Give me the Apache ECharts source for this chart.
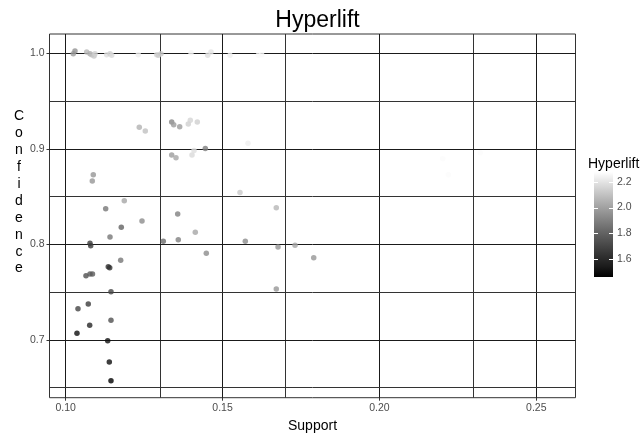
<!DOCTYPE html>
<html>
<head>
<meta charset="utf-8">
<script src="https://cdn.jsdelivr.net/npm/echarts@6/dist/echarts.min.js"></script>
<style>html,body{margin:0;padding:0;background:#fff;}#chart{width:642px;height:438px;}</style>
</head>
<body>
<div id="chart"></div>
<script>
// ---- data ----
const support = [
  0.10242, 0.10296, 0.10669, 0.10775, 0.10829, 0.10902, 0.10934, 0.11307, 0.11412, 0.11466,
  0.12314, 0.12901, 0.12952, 0.13038, 0.13994, 0.14527, 0.14632, 0.15237, 0.16140, 0.16248,
  0.12346, 0.12537, 0.13379, 0.13443, 0.13634, 0.13908, 0.13972, 0.14195,
  0.13379, 0.13516, 0.14026, 0.14090, 0.14450, 0.15811,
  0.22018, 0.22197, 0.23216,
  0.10880, 0.10848, 0.11868, 0.11275, 0.12432, 0.13570, 0.11772, 0.11412, 0.14131,
  0.10775, 0.10797, 0.13111, 0.13589, 0.14482, 0.11753, 0.11358, 0.11403, 0.10647, 0.10775,
  0.10854, 0.15725, 0.16713, 0.16768, 0.17310, 0.17906, 0.15556, 0.16713,
  0.11444, 0.10720, 0.10392, 0.11444, 0.10765, 0.10360, 0.11339, 0.11390, 0.11444
];
const confidence = [
  0.9996, 1.0024, 1.0014, 0.9996, 0.9985, 0.9972, 0.9996, 0.9985, 0.9996, 0.9979,
  0.9985, 0.9985, 0.9979, 0.9996, 1.0006, 0.9979, 1.0014, 0.9979, 0.9979, 0.9985,
  0.9225, 0.9187, 0.9281, 0.9253, 0.9232, 0.9260, 0.9299, 0.9281,
  0.8936, 0.8907, 0.8936, 0.8983, 0.9004, 0.9058,
  0.8897, 0.8729, 0.8960,
  0.8729, 0.8663, 0.8457, 0.8373, 0.8245, 0.8318, 0.8179, 0.8077, 0.8126,
  0.8011, 0.7986, 0.8032, 0.8049, 0.7907, 0.7833, 0.7766, 0.7756, 0.7672, 0.7690,
  0.7690, 0.8032, 0.8384, 0.7973, 0.7990, 0.7861, 0.8543, 0.7533,
  0.7505, 0.7376, 0.7327, 0.7205, 0.7153, 0.7069, 0.6992, 0.6769, 0.6573
];
const hyperlift = [
  1.990, 1.960, 2.070, 2.040, 2.085, 2.115, 2.140, 2.185, 2.140, 2.170,
  2.230, 2.155, 2.125, 2.115, 2.245, 2.185, 2.200, 2.230, 2.258, 2.258,
  2.050, 2.095, 1.920, 1.985, 1.985, 2.140, 2.155, 2.140,
  1.985, 2.015, 2.170, 2.185, 1.890, 2.230,
  2.265, 2.265, 2.265,
  1.966, 1.966, 2.015, 1.869, 1.934, 1.901, 1.804, 1.869, 2.015,
  1.666, 1.666, 1.837, 1.901, 1.934, 1.869, 1.625, 1.625, 1.739, 1.772,
  1.772, 1.934, 2.064, 1.966, 2.015, 1.966, 2.121, 1.966,
  1.698, 1.666, 1.698, 1.739, 1.585, 1.504, 1.512, 1.504, 1.463
];
const xMajorTicks = [0.10, 0.15, 0.20, 0.25];
const xMinorTicks = [0.125, 0.175, 0.225];
const yMajorTicks = [0.7, 0.8, 0.9, 1.0];
const yMinorTicks = [0.65, 0.75, 0.85, 0.95];
const legendTicks = [1.6, 1.8, 2.0, 2.2];
const xRange = [0.09484, 0.2625];
const yRange = [0.6395, 1.0202];
const colorRange = [1.463, 2.275];
const grayStops = ['#000000','#1b1b1b','#303030','#474747','#5e5e5e','#777777','#919191','#ababab','#c6c6c6','#e2e2e2','#ffffff'];

// ---- chart ----
const chart = echarts.init(document.getElementById('chart'), null, {renderer: 'canvas'});
const font = 'Liberation Sans, Arial, sans-serif';
const points = support.map((s, i) => [s, confidence[i], hyperlift[i]]);

const major = {color: '#1a1a1a', width: 1, type: 'solid'};
const minor = {color: '#333333', width: 1, type: 'solid'};
const gridLineData = []
  .concat(xMajorTicks.map(v => ({xAxis: v, lineStyle: major})))
  .concat(xMinorTicks.map(v => ({xAxis: v, lineStyle: minor})))
  .concat(yMajorTicks.map(v => ({yAxis: v, lineStyle: major})))
  .concat(yMinorTicks.map(v => ({yAxis: v, lineStyle: minor})));

const option = {
  backgroundColor: '#ffffff',
  animation: false,
  textStyle: {fontFamily: font},
  title: [
    {text: 'Hyperlift', left: 312.5, top: 4, textAlign: 'center',
     textStyle: {fontSize: 23, fontWeight: 'normal', color: '#000', fontFamily: font}},
    {text: 'C\no\nn\nf\ni\nd\ne\nn\nc\ne', left: 14, top: 103, textAlign: 'center',
     textStyle: {fontSize: 14, lineHeight: 16.9, fontWeight: 'normal', color: '#000', fontFamily: font}},
    {text: 'Hyperlift', left: 583, top: 152, textAlign: 'left',
     textStyle: {fontSize: 14, fontWeight: 'normal', color: '#000', fontFamily: font}}
  ],
  grid: [
    {left: 49.5, right: 66.5, top: 34, bottom: 40.3, show: true, borderColor: '#333', borderWidth: 1, backgroundColor: 'transparent'},
    {left: 594, top: 172, width: 19, height: 105}
  ],
  xAxis: [
    {type: 'value', gridIndex: 0, min: xRange[0], max: xRange[1],
     name: 'Support', nameLocation: 'middle', nameGap: 21,
     nameTextStyle: {fontSize: 14, color: '#000', fontFamily: font},
     axisLine: {show: false},
     axisTick: {show: true, length: 3, customValues: xMajorTicks, lineStyle: {color: '#333'}},
     axisLabel: {customValues: xMajorTicks, margin: 5, fontSize: 10.5, color: '#4d4d4d', fontFamily: font,
                 formatter: v => v.toFixed(2)},
     splitLine: {show: false}},
    {type: 'value', gridIndex: 1, min: 0, max: 1, show: false}
  ],
  yAxis: [
    {type: 'value', gridIndex: 0, min: yRange[0], max: yRange[1],
     axisLine: {show: false},
     axisTick: {show: true, length: 3, customValues: yMajorTicks, lineStyle: {color: '#333'}},
     axisLabel: {customValues: yMajorTicks, margin: 5, fontSize: 10.5, color: '#4d4d4d', fontFamily: font,
                 formatter: v => v.toFixed(1)},
     splitLine: {show: false}},
    {type: 'value', gridIndex: 1, min: colorRange[0], max: colorRange[1], position: 'right',
     axisLine: {show: false}, axisTick: {show: false}, splitLine: {show: false},
     axisLabel: {customValues: legendTicks, margin: 4, fontSize: 10.5, color: '#4d4d4d', fontFamily: font,
                 formatter: v => v.toFixed(1)}}
  ],
  visualMap: {
    type: 'continuous', show: false, seriesIndex: 0, dimension: 2,
    min: colorRange[0], max: colorRange[1],
    inRange: {color: grayStops}
  },
  series: [
    {
      type: 'scatter', xAxisIndex: 0, yAxisIndex: 0,
      data: points, symbol: 'circle', symbolSize: 5.5,
      itemStyle: {opacity: 0.8},
      markLine: {
        silent: true, symbol: ['none', 'none'], label: {show: false},
        animation: false, z: 1,
        lineStyle: {type: 'solid'},
        data: gridLineData
      },
      z: 3
    },
    {
      type: 'custom', xAxisIndex: 1, yAxisIndex: 1,
      data: [[0, colorRange[0]]],
      silent: true,
      renderItem: function (params, api) {
        const p0 = api.coord([0, colorRange[0]]);
        const p1 = api.coord([1, colorRange[1]]);
        const stops = grayStops.map((c, i) => ({offset: i / (grayStops.length - 1), color: c}));
        const children = [{
          type: 'rect',
          shape: {x: p0[0], y: p1[1], width: p1[0] - p0[0], height: p0[1] - p1[1]},
          style: {fill: new echarts.graphic.LinearGradient(0, 1, 0, 0, stops)}
        }];
        legendTicks.forEach(v => {
          const y = Math.round(api.coord([0, v])[1]) + 0.5;
          children.push({type: 'line', shape: {x1: p0[0], y1: y, x2: p0[0] + 4, y2: y}, style: {stroke: '#fff', lineWidth: 1}});
          children.push({type: 'line', shape: {x1: p1[0] - 4, y1: y, x2: p1[0], y2: y}, style: {stroke: '#fff', lineWidth: 1}});
        });
        return {type: 'group', children: children};
      }
    }
  ]
};
chart.setOption(option);
</script>
</body>
</html>
